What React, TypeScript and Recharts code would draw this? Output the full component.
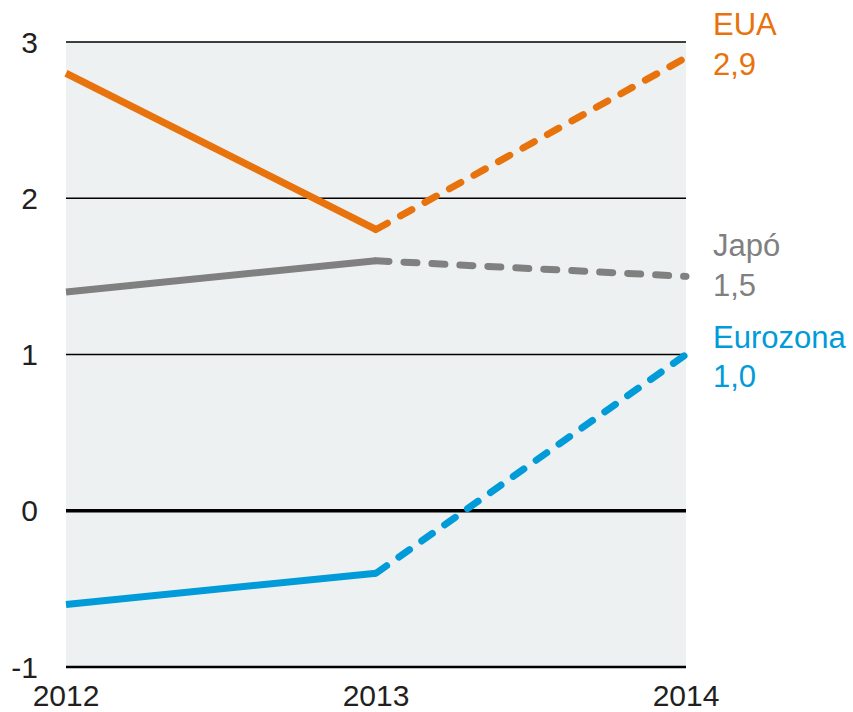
import { LineChart, Line, XAxis, YAxis, CartesianGrid, ReferenceLine } from "recharts";

const years = [2012, 2013, 2014];
const eua = [2.8, 1.8, 2.9];
const japo = [1.4, 1.6, 1.5];
const eurozona = [-0.6, -0.4, 1.0];
const yTicks = [-1, 0, 1, 2, 3];

const ORANGE = "#e8720c";
const GREY = "#808080";
const BLUE = "#009bd8";
const FONT = "'Liberation Sans', Arial, sans-serif";

// solid up to 2013 (actual), dashed from 2013 (forecast)
const data = years.map((year, i) => ({
  year,
  eua: i <= 1 ? eua[i] : null,
  euaF: i >= 1 ? eua[i] : null,
  japo: i <= 1 ? japo[i] : null,
  japoF: i >= 1 ? japo[i] : null,
  euro: i <= 1 ? eurozona[i] : null,
  euroF: i >= 1 ? eurozona[i] : null,
}));

const fmt = (v: number) => v.toFixed(1).replace(".", ",");

function endLabel(name: string, color: string, up: number, down: number) {
  return (props: any) => {
    const { x, y, index, value } = props;
    if (index !== years.length - 1) return null;
    return (
      <g key={name}>
        <text x={x + 27} y={y - up} fill={color} fontSize={31} fontFamily={FONT}>
          {name}
        </text>
        <text x={x + 27} y={y + down} fill={color} fontSize={31} fontFamily={FONT}>
          {fmt(value)}
        </text>
      </g>
    );
  };
}

const lineProps = {
  type: "linear" as const,
  strokeWidth: 7,
  dot: false,
  activeDot: false,
  isAnimationActive: false,
  strokeLinecap: "round" as const,
  connectNulls: false,
};

const DASH = "13 15";

export default function App() {
  return (
    <div style={{ position: "absolute", left: 0, top: 0 }}>
      <LineChart width={853} height={712} data={data} margin={{ top: 42, right: 167, left: 0, bottom: 0 }}>
        <CartesianGrid vertical={false} stroke="#000" strokeWidth={1.5} fill="#eef1f2" />
        <XAxis
          dataKey="year"
          type="number"
          domain={[2012, 2014]}
          ticks={years}
          axisLine={false}
          tickLine={false}
          tickSize={0}
          tickMargin={18}
          height={45}
          tick={{ fontSize: 30, fill: "#231f20", fontFamily: FONT }}
        />
        <YAxis
          domain={[-1, 3]}
          ticks={yTicks}
          width={66}
          axisLine={false}
          tickLine={false}
          tickSize={0}
          tickMargin={28}
          tick={{ fontSize: 30, fill: "#231f20", fontFamily: FONT }}
        />
        <ReferenceLine y={0} stroke="#000" strokeWidth={3.5} />
        <ReferenceLine y={-1} stroke="#000" strokeWidth={2.5} />
        <Line {...lineProps} dataKey="eua" stroke={ORANGE} strokeLinecap="butt" />
        <Line {...lineProps} dataKey="euaF" stroke={ORANGE} strokeDasharray={DASH} label={endLabel("EUA", ORANGE, 23, 17)} />
        <Line {...lineProps} dataKey="japo" stroke={GREY} strokeLinecap="butt" />
        <Line {...lineProps} dataKey="japoF" stroke={GREY} strokeDasharray={DASH} label={endLabel("Japó", GREY, 20, 20)} />
        <Line {...lineProps} dataKey="euro" stroke={BLUE} strokeLinecap="butt" />
        <Line {...lineProps} dataKey="euroF" stroke={BLUE} strokeDasharray={DASH} label={endLabel("Eurozona", BLUE, 7, 32)} />
      </LineChart>
    </div>
  );
}
